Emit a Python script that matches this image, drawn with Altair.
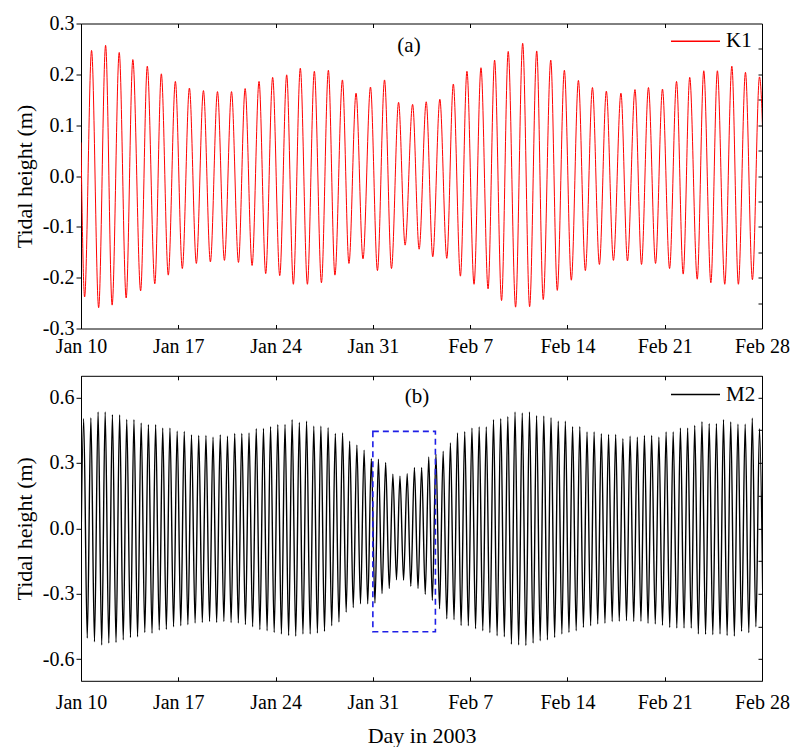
import json
import altair as alt
import pandas as pd

# ---------------- data (days after 10 Jan 2003, tidal height in m) ----------------
tick_days = [0, 7, 14, 21, 28, 35, 42, 49]
tick_labels = ["Jan 10", "Jan 17", "Jan 24", "Jan 31", "Feb 7", "Feb 14", "Feb 21", "Feb 28"]

k1_yticks = [-0.3, -0.2, -0.1, 0.0, 0.1, 0.2, 0.3]
k1_right_ticks = [-0.25, -0.2, -0.15, -0.1, -0.05, 0.0, 0.05, 0.1, 0.15, 0.2, 0.25]
m2_yticks = [-0.6, -0.3, 0.0, 0.3, 0.6]
m2_right_ticks = [-0.6, -0.45, -0.3, -0.15, 0.0, 0.15, 0.3, 0.45, 0.6]

# K1 extremes
k1_peak_day = [0.76, 1.77, 2.75, 3.73, 4.77, 5.78, 6.79, 7.80, 8.81, 9.82, 10.83, 11.81, 12.81,
               13.79, 14.80, 15.78, 16.79, 17.80, 18.81, 19.79, 20.83, 21.84, 22.85, 23.86, 24.84,
               25.82, 26.79, 27.77, 28.78, 29.76, 30.74, 31.78, 32.79, 33.80, 34.78, 35.79, 36.80,
               37.80, 38.85, 39.86, 40.83, 41.84, 42.85, 43.80, 44.81, 45.79, 46.83, 47.81, 48.82]
k1_peak_val = [0.247, 0.257, 0.243, 0.229, 0.216, 0.201, 0.186, 0.173, 0.168, 0.166,
               0.166, 0.172, 0.186, 0.194, 0.199, 0.212, 0.206, 0.208, 0.189, 0.163,
               0.175, 0.189, 0.145, 0.141, 0.146, 0.151, 0.181, 0.206, 0.213, 0.228,
               0.245, 0.261, 0.246, 0.228, 0.208, 0.188, 0.174, 0.167, 0.163, 0.170,
               0.174, 0.171, 0.186, 0.194, 0.207, 0.207, 0.216, 0.204, 0.195]
k1_trough_day = [0.26, 1.27, 2.24, 3.25, 4.29, 5.31, 6.28, 7.29, 8.30, 9.31, 10.32, 11.33, 12.31,
                 13.29, 14.30, 15.28, 16.29, 17.30, 18.27, 19.28, 20.29, 21.33, 22.34, 23.32,
                 24.33, 25.31, 26.32, 27.30, 28.28, 29.29, 30.26, 31.27, 32.28, 33.26, 34.27,
                 35.28, 36.29, 37.30, 38.31, 39.32, 40.33, 41.34, 42.35, 43.33, 44.34, 45.32,
                 46.32, 47.30, 48.31]
k1_trough_val = [-0.238, -0.259, -0.254, -0.240, -0.226, -0.212, -0.195, -0.182, -0.172, -0.169,
                 -0.166, -0.170, -0.176, -0.192, -0.196, -0.213, -0.213, -0.210, -0.195, -0.172,
                 -0.163, -0.186, -0.182, -0.136, -0.144, -0.159, -0.162, -0.197, -0.213, -0.222,
                 -0.245, -0.258, -0.257, -0.243, -0.225, -0.205, -0.186, -0.174, -0.166, -0.167,
                 -0.174, -0.172, -0.182, -0.193, -0.203, -0.210, -0.213, -0.213, -0.204]
k1_edge_day = [0.0, 49.31]
k1_edge_val = [0.066, -0.200]

# M2 extremes
m2_peak_day = [0.19, 0.71, 1.23, 1.74, 2.26, 2.78, 3.29, 3.81, 4.33, 4.85, 5.37, 5.88, 6.40, 6.92,
               7.43, 7.95, 8.47, 8.99, 9.50, 10.02, 10.54, 11.06, 11.57, 12.09, 12.61, 13.13,
               13.64, 14.16, 14.68, 15.19, 15.71, 16.23, 16.75, 17.26, 17.78, 18.30, 18.82,
               19.33, 19.85, 20.37, 20.89, 21.40, 21.92, 22.44, 22.95, 23.47, 23.99, 24.51,
               25.02, 25.54, 26.06, 26.58, 27.09, 27.61, 28.13, 28.65, 29.16, 29.68, 30.20,
               30.71, 31.23, 31.75, 32.27, 32.78, 33.30, 33.82, 34.34, 34.85, 35.37, 35.89,
               36.41, 36.92, 37.44, 37.96, 38.47, 38.99, 39.51, 40.03, 40.54, 41.06, 41.58,
               42.10, 42.61, 43.13, 43.65, 44.16, 44.68, 45.20, 45.72, 46.23, 46.75, 47.27,
               47.79, 48.30, 48.82]
m2_peak_val = [0.503, 0.506, 0.534, 0.534, 0.522, 0.520, 0.500, 0.498, 0.483, 0.475,
               0.475, 0.460, 0.460, 0.446, 0.445, 0.429, 0.426, 0.426, 0.418, 0.429,
               0.423, 0.435, 0.435, 0.438, 0.457, 0.458, 0.466, 0.475, 0.477, 0.498,
               0.486, 0.492, 0.469, 0.469, 0.462, 0.435,
               0.438, 0.400, 0.382, 0.359, 0.320, 0.317, 0.302, 0.248, 0.239, 0.251,
               0.279, 0.279, 0.328, 0.340, 0.354, 0.392, 0.438, 0.443,
               0.460, 0.465, 0.465, 0.498, 0.503, 0.512, 0.534, 0.529, 0.534, 0.517,
               0.515, 0.508, 0.492, 0.492, 0.466, 0.466, 0.442, 0.442, 0.434, 0.431,
               0.431, 0.411, 0.423, 0.418, 0.426, 0.426, 0.418, 0.442, 0.442, 0.460,
               0.460, 0.472, 0.489, 0.480, 0.480, 0.498, 0.488, 0.478, 0.478, 0.505, 0.457]
m2_trough_day = [0.45, 0.97, 1.49, 2.00, 2.52, 3.04, 3.56, 4.07, 4.59, 5.11, 5.63, 6.14, 6.66,
                 7.18, 7.69, 8.21, 8.73, 9.25, 9.76, 10.28, 10.80, 11.32, 11.83, 12.35, 12.87,
                 13.39, 13.90, 14.42, 14.94, 15.45, 15.97, 16.49, 17.01, 17.52, 18.04, 18.56,
                 19.08, 19.59, 20.11, 20.63, 21.15, 21.66, 22.18, 22.70, 23.21, 23.73, 24.25,
                 24.77, 25.28, 25.80, 26.32, 26.84, 27.35, 27.87, 28.39, 28.91, 29.42, 29.94,
                 30.46, 30.97, 31.49, 32.01, 32.53, 33.04, 33.56, 34.08, 34.60, 35.11, 35.63,
                 36.15, 36.67, 37.18, 37.70, 38.22, 38.73, 39.25, 39.77, 40.29, 40.80, 41.32,
                 41.84, 42.36, 42.87, 43.39, 43.91, 44.42, 44.94, 45.46, 45.98, 46.49, 47.01,
                 47.53, 48.05, 48.56]
m2_trough_val = [-0.504, -0.521, -0.536, -0.527, -0.524, -0.512, -0.501, -0.498, -0.478, -0.482,
                 -0.467, -0.464, -0.452, -0.447, -0.442, -0.435, -0.432, -0.428, -0.432, -0.428,
                 -0.433, -0.435, -0.442, -0.452, -0.465, -0.470, -0.478, -0.485, -0.492, -0.495,
                 -0.485, -0.485, -0.481, -0.473, -0.447,
                 -0.430, -0.385, -0.364, -0.346, -0.346, -0.343, -0.300, -0.277, -0.236, -0.239,
                 -0.266, -0.277, -0.303, -0.331, -0.369, -0.415, -0.420, -0.446,
                 -0.447, -0.461, -0.470, -0.479, -0.493, -0.498, -0.532, -0.535, -0.538, -0.527,
                 -0.516, -0.512, -0.501, -0.485, -0.478, -0.470, -0.455, -0.447, -0.439, -0.436,
                 -0.428, -0.427, -0.424, -0.428, -0.427, -0.436, -0.439, -0.445, -0.455, -0.458,
                 -0.458, -0.458, -0.485, -0.487, -0.488, -0.485, -0.492, -0.495, -0.473, -0.479,
                 -0.452]
m2_edge_day = [-0.07, 49.08]
m2_edge_val = [-0.500, -0.439]

# highlighted window (dashed box) in panel (b)
box_days = [21.0, 25.5]
box_heights = [-0.475, 0.445]

# ---------------- styling ----------------
FONT = "Liberation Serif"
W, H = 681, 305
LABEL_SIZE = 20
TITLE_SIZE = 22

x_label_expr = f"{json.dumps(tick_labels)}[indexof({json.dumps(tick_days)}, datum.value)]"
y_label_expr = "replace(format(datum.value, '.1f'), '\u2212', '-')"


def frame(name, parts):
    days, vals = [], []
    for d, v in parts:
        days += list(d)
        vals += list(v)
    df = pd.DataFrame({"day": days, "h": vals})
    df["series"] = name
    return df.sort_values("day").reset_index(drop=True)


def panel(df, name, color, lw, ydom, yvals, yright, label, label_pos, leg_pos,
          label_pad, xtitle=None, box=None):
    xs = alt.Scale(domain=[0, 49], nice=False, zero=False)
    ys = alt.Scale(domain=ydom, nice=False, zero=False)
    xax = dict(orient="bottom", values=tick_days, labelExpr=x_label_expr, ticks=False,
               domain=False, grid=False, labelFont=FONT, labelFontSize=LABEL_SIZE,
               labelColor="black", labelPadding=label_pad, labelFlush=False, labelOverlap=False)
    if xtitle:
        xax.update(title=xtitle, titleFont=FONT, titleFontSize=TITLE_SIZE,
                   titleFontWeight="normal", titleColor="black", titlePadding=13)
    else:
        xax.update(title=None)
    line = alt.Chart(df).mark_line(interpolate="monotone", clip=True, strokeWidth=lw).encode(
        x=alt.X("day:Q", scale=xs, axis=alt.Axis(**xax)),
        y=alt.Y("h:Q", scale=ys, axis=alt.Axis(
            orient="left", values=yvals, labelExpr=y_label_expr, tickSize=5,
            domain=False, grid=False, labelFont=FONT, labelFontSize=LABEL_SIZE,
            labelColor="black", labelPadding=2, labelOverlap=False,
            title="Tidal height (m)", titleFont=FONT, titleFontSize=TITLE_SIZE,
            titleFontWeight="normal", titleColor="black", titlePadding=6)),
        color=alt.Color("series:N", scale=alt.Scale(domain=[name], range=[color]),
                        legend=alt.Legend(orient="none", legendX=leg_pos[0], legendY=leg_pos[1],
                                          title=None, symbolType="stroke", symbolSize=2400,
                                          symbolStrokeWidth=1.5, labelFont=FONT,
                                          labelFontSize=21, labelColor="black",
                                          labelOffset=5, padding=0)),
    )
    mirror_a = alt.Chart(df).mark_line(opacity=0).encode(
        x=alt.X("day:Q", scale=xs, axis=alt.Axis(orient="top", offset=-H, values=tick_days,
                                                 labels=False, tickSize=4, domain=False,
                                                 grid=False, title=None)),
        y=alt.Y("h:Q", scale=ys, axis=alt.Axis(orient="left", offset=-W, values=yright,
                                               labels=False, tickSize=4, domain=False,
                                               grid=False, title=None)),
    )
    mirror_b = alt.Chart(df).mark_line(opacity=0).encode(
        x=alt.X("day:Q", scale=xs, axis=alt.Axis(orient="bottom", offset=-H, values=tick_days,
                                                 labels=False, tickSize=4, domain=False,
                                                 grid=False, title=None)),
        y=alt.Y("h:Q", scale=ys, axis=None),
    )
    text = alt.Chart(pd.DataFrame({"t": [label]})).mark_text(
        font=FONT, fontSize=21, color="black", align="center", baseline="middle"
    ).encode(text="t:N", x=alt.value(label_pos[0]), y=alt.value(label_pos[1]))
    layers = [line, mirror_a, mirror_b]
    if box is not None:
        bdf = pd.DataFrame({"x0": [box[0][0]], "x1": [box[0][1]],
                            "y0": [box[1][0]], "y1": [box[1][1]]})
        layers.append(alt.Chart(bdf).mark_rect(
            fillOpacity=0, stroke="#1f1fe6", strokeWidth=1.6, strokeDash=[6, 4]
        ).encode(x=alt.X("x0:Q", scale=xs, axis=None), x2="x1:Q",
                 y=alt.Y("y0:Q", scale=ys, axis=None), y2="y1:Q"))
    layers.append(text)
    return alt.layer(*layers).resolve_axis(x="independent", y="independent").properties(
        width=W, height=H)


k1 = frame("K1", [(k1_peak_day, k1_peak_val), (k1_trough_day, k1_trough_val),
                  (k1_edge_day, k1_edge_val)])
m2 = frame("M2", [(m2_peak_day, m2_peak_val), (m2_trough_day, m2_trough_val),
                  (m2_edge_day, m2_edge_val)])

top = panel(k1, "K1", "#ff0000", 1.0, [-0.3, 0.3], k1_yticks, k1_right_ticks,
            "(a)", (328, 22), (589, -7.7), 8)
bottom = panel(m2, "M2", "#000000", 1.4, [-0.7, 0.7], m2_yticks, m2_right_ticks,
               "(b)", (336, 21), (589, -6.7), 12, xtitle="Day in 2003",
               box=(box_days, box_heights))

chart = alt.vconcat(top, bottom, spacing=10.3).resolve_scale(color="independent").properties(
    padding={"left": 12, "top": 12.5, "right": 5, "bottom": 0}
).configure_view(stroke="black", strokeWidth=1).configure_axis(
    tickColor="black", tickWidth=1
)

chart.save("out.html", embed_options={"renderer": "svg", "actions": False})
